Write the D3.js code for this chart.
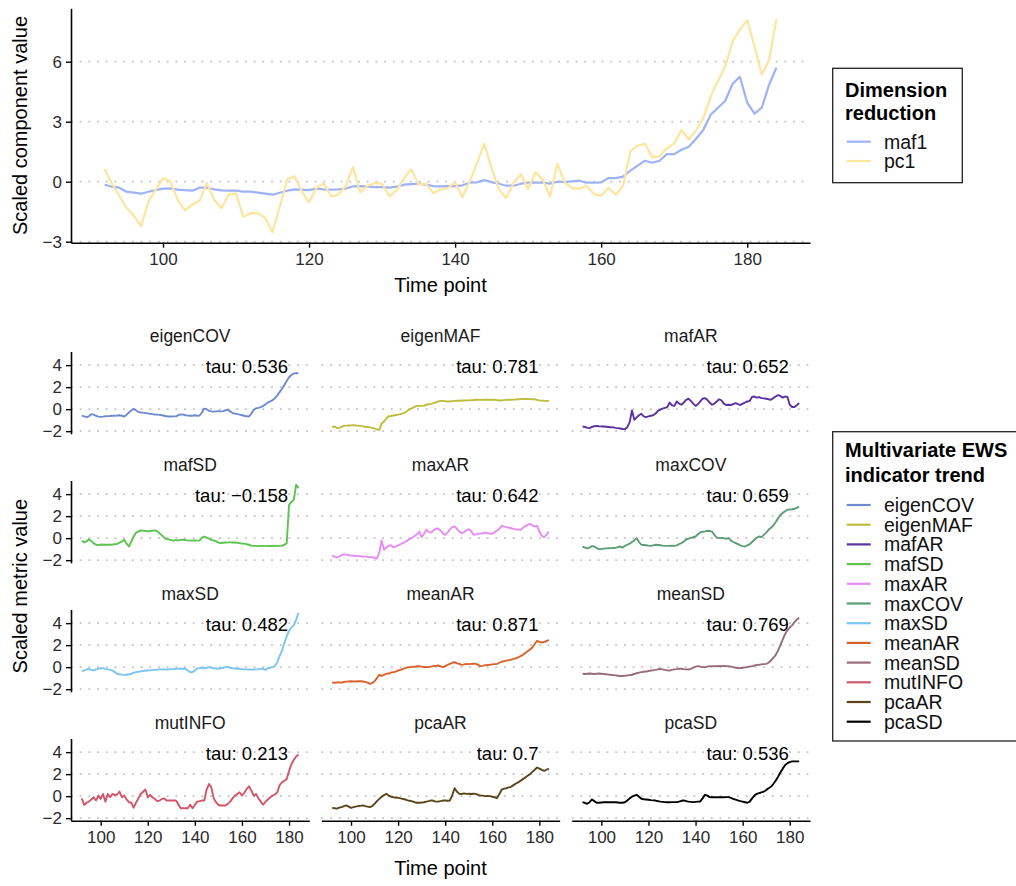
<!DOCTYPE html>
<html><head><meta charset="utf-8">
<script src="https://cdn.jsdelivr.net/npm/d3@7"></script>
<style>
body{margin:0;background:#fff;}
svg{display:block;font-family:"Liberation Sans",Arial,sans-serif;}
</style></head>
<body><svg id="chart" width="1016" height="886"></svg>
<script>
const timePoints = d3.range(92, 185);
const xTicks = [100, 120, 140, 160, 180];
const topYTicks = [-3, 0, 3, 6];
const facetYTicks = [-2, 0, 2, 4];

const maf1 = [-0.15,-0.25,-0.3,-0.5,-0.55,-0.6,-0.5,-0.42,-0.35,-0.33,
-0.4,-0.42,-0.45,-0.3,-0.3,-0.38,-0.43,-0.45,-0.45,-0.5,
-0.5,-0.55,-0.6,-0.65,-0.55,-0.45,-0.38,-0.4,-0.42,-0.35,
-0.38,-0.4,-0.38,-0.35,-0.23,-0.22,-0.25,-0.27,-0.27,-0.3,
-0.25,-0.15,-0.12,-0.1,-0.15,-0.22,-0.23,-0.22,-0.22,-0.18,
-0.05,-0.03,0.08,-0.02,-0.1,-0.2,-0.2,-0.1,-0.05,-0.05,
-0.05,-0.1,0.0,-0.02,0.02,0.05,-0.05,-0.05,-0.03,0.18,
0.18,0.25,0.55,0.8,1.05,0.95,1.05,1.38,1.38,1.6,
1.75,2.15,2.6,3.35,3.7,4.05,4.9,5.25,3.95,3.4,
3.7,4.85,5.7];
const pc1 = [0.63,-0.1,-0.7,-1.3,-1.7,-2.23,-0.98,-0.4,0.18,0.02,
-0.9,-1.43,-1.15,-0.95,-0.07,-0.9,-1.32,-0.65,-0.6,-1.77,
-1.57,-1.57,-1.82,-2.53,-1.23,0.1,0.27,-0.48,-1.03,-0.32,
-0.07,-0.73,-0.65,-0.23,0.73,-0.53,-0.2,-0.07,-0.1,-0.73,
-0.43,0.18,0.63,-0.15,-0.1,-0.57,-0.4,-0.32,-0.03,-0.78,
0.02,0.93,1.9,0.68,-0.37,-0.82,-0.07,0.38,-0.37,0.48,
0.1,-0.73,0.9,-0.03,-0.32,-0.35,-0.2,-0.62,-0.7,-0.32,
-0.65,-0.2,1.52,1.8,1.9,1.23,1.27,1.68,1.9,2.6,
2.1,2.57,3.18,4.27,5.02,5.77,7.02,7.6,8.07,6.77,
5.35,6.07,8.13];

const eigenCOV = [-0.58,-0.65,-0.72,-0.65,-0.45,-0.5,-0.6,-0.68,-0.7,-0.68,
-0.65,-0.63,-0.62,-0.6,-0.6,-0.58,-0.55,-0.6,-0.67,-0.5,
-0.3,-0.12,0.03,-0.1,-0.25,-0.3,-0.32,-0.35,-0.38,-0.42,
-0.45,-0.48,-0.5,-0.52,-0.55,-0.6,-0.65,-0.67,-0.67,-0.66,
-0.66,-0.55,-0.48,-0.5,-0.55,-0.58,-0.6,-0.6,-0.55,-0.6,
-0.58,-0.3,0.05,0.0,-0.15,-0.2,-0.22,-0.2,-0.18,-0.2,
-0.18,-0.1,-0.06,-0.2,-0.35,-0.4,-0.45,-0.5,-0.55,-0.6,
-0.65,-0.67,-0.4,-0.05,0.08,0.12,0.18,0.3,0.45,0.6,
0.7,0.82,1.0,1.25,1.55,1.85,2.2,2.55,2.9,3.1,
3.25,3.27,3.27];
const eigenMAF = [-1.64,-1.58,-1.72,-1.7,-1.6,-1.52,-1.5,-1.48,-1.47,-1.45,
-1.48,-1.5,-1.52,-1.56,-1.6,-1.62,-1.66,-1.7,-1.75,-1.85,
-1.88,-1.3,-1.12,-0.85,-0.65,-0.62,-0.58,-0.53,-0.5,-0.45,
-0.38,-0.3,-0.15,0.0,0.1,0.2,0.3,0.3,0.3,0.32,
0.4,0.45,0.48,0.55,0.62,0.7,0.75,0.75,0.72,0.7,
0.7,0.73,0.75,0.76,0.77,0.78,0.79,0.8,0.8,0.82,
0.83,0.85,0.85,0.84,0.85,0.86,0.85,0.85,0.86,0.85,
0.82,0.79,0.8,0.82,0.84,0.85,0.85,0.87,0.88,0.9,
0.91,0.92,0.93,0.92,0.91,0.9,0.9,0.85,0.8,0.78,
0.76,0.75,0.74];
const mafAR = [-1.58,-1.62,-1.7,-1.72,-1.62,-1.55,-1.52,-1.55,-1.57,-1.58,
-1.6,-1.62,-1.64,-1.66,-1.7,-1.72,-1.76,-1.8,-1.82,-1.64,
-1.2,-0.12,-0.97,-0.75,-0.55,-0.42,-0.65,-0.72,-0.65,-0.6,
-0.55,-0.4,-0.15,-0.05,0.05,0.12,0.18,0.6,0.35,0.3,
0.7,0.5,0.4,0.6,0.85,0.95,0.75,0.5,0.3,0.45,
0.7,0.95,1.0,0.85,0.6,0.4,0.5,0.7,0.9,0.8,
0.5,0.38,0.4,0.38,0.45,0.55,0.45,0.38,0.5,0.6,
0.7,0.75,1.12,1.15,1.05,1.1,1.0,0.98,0.95,0.9,
0.85,1.0,1.15,1.27,1.2,1.05,1.15,1.12,0.4,0.2,
0.2,0.35,0.55];
const mafSD = [-0.21,-0.39,-0.3,-0.1,-0.25,-0.45,-0.6,-0.62,-0.6,-0.58,
-0.6,-0.6,-0.6,-0.58,-0.55,-0.52,-0.4,-0.3,-0.15,-0.5,
-0.76,-0.3,0.15,0.5,0.6,0.7,0.68,0.65,0.62,0.65,
0.68,0.7,0.62,0.45,0.25,0.05,-0.09,-0.12,-0.18,-0.21,
-0.18,-0.2,-0.15,-0.15,-0.18,-0.2,-0.22,-0.21,-0.2,-0.22,
-0.21,0.05,0.15,0.05,-0.05,-0.15,-0.21,-0.3,-0.4,-0.45,
-0.42,-0.4,-0.38,-0.38,-0.39,-0.4,-0.42,-0.45,-0.48,-0.5,
-0.55,-0.6,-0.68,-0.7,-0.7,-0.72,-0.7,-0.7,-0.7,-0.72,
-0.7,-0.72,-0.7,-0.7,-0.7,-0.68,-0.6,-0.45,3.03,3.3,
3.48,4.85,4.55];
const maxAR = [-1.6,-1.68,-1.76,-1.65,-1.55,-1.48,-1.5,-1.55,-1.58,-1.6,
-1.62,-1.63,-1.65,-1.67,-1.68,-1.7,-1.72,-1.73,-1.78,-1.85,
-1.3,-0.21,-1.06,-0.85,-0.7,-0.64,-0.82,-0.75,-0.65,-0.55,
-0.45,-0.35,-0.2,-0.09,0.05,0.2,0.35,0.6,0.1,0.4,
0.76,0.55,0.5,0.7,0.85,0.88,0.7,0.45,0.3,0.5,
0.8,1.0,1.06,0.85,0.6,0.45,0.55,0.7,0.82,0.65,
0.3,0.35,0.4,0.42,0.45,0.5,0.45,0.42,0.4,0.55,
0.7,0.85,1.12,1.05,1.0,0.95,0.9,0.85,0.8,0.78,
0.76,0.95,1.1,1.2,1.3,1.15,1.06,1.12,0.6,0.21,
0.09,0.3,0.6];
const maxCOV = [-0.76,-0.85,-0.94,-0.85,-0.72,-0.75,-0.9,-1.0,-0.98,-0.95,
-0.93,-0.92,-0.91,-0.9,-0.88,-0.82,-0.76,-0.85,-0.7,-0.6,
-0.5,-0.35,-0.2,0.0,-0.35,-0.6,-0.62,-0.65,-0.68,-0.7,
-0.65,-0.6,-0.62,-0.65,-0.68,-0.7,-0.7,-0.7,-0.68,-0.7,
-0.65,-0.55,-0.45,-0.3,-0.12,-0.05,0.02,0.08,0.15,0.35,
0.52,0.58,0.62,0.67,0.65,0.6,0.3,0.05,0.0,0.02,
0.0,-0.05,0.0,-0.2,-0.35,-0.45,-0.55,-0.65,-0.72,-0.76,
-0.65,-0.55,-0.35,-0.15,0.05,0.15,0.09,0.3,0.5,0.76,
0.95,1.15,1.45,1.8,2.1,2.3,2.45,2.58,2.6,2.63,
2.67,2.75,2.88];
const maxSD = [-0.39,-0.3,-0.2,-0.15,-0.25,-0.3,-0.2,-0.15,-0.1,-0.09,
-0.15,-0.2,-0.25,-0.3,-0.45,-0.6,-0.65,-0.68,-0.7,-0.69,
-0.65,-0.6,-0.52,-0.45,-0.42,-0.38,-0.35,-0.3,-0.3,-0.28,
-0.25,-0.25,-0.22,-0.2,-0.2,-0.21,-0.21,-0.2,-0.18,-0.18,
-0.15,-0.15,-0.12,-0.15,-0.15,-0.3,-0.45,-0.45,-0.3,-0.12,
-0.09,-0.05,-0.1,-0.05,0.0,-0.05,-0.1,-0.12,-0.15,-0.1,
-0.05,0.0,0.0,-0.05,-0.1,-0.12,-0.15,-0.15,-0.18,-0.2,
-0.2,-0.21,-0.22,-0.21,-0.2,-0.18,-0.15,-0.15,-0.25,-0.1,
-0.05,0.0,0.1,0.45,1.0,1.5,2.2,2.8,3.3,3.6,
3.8,4.3,4.93];
const meanAR = [-1.4,-1.42,-1.4,-1.38,-1.4,-1.35,-1.32,-1.3,-1.28,-1.3,
-1.3,-1.28,-1.28,-1.3,-1.34,-1.4,-1.52,-1.45,-1.28,-1.0,
-0.69,-0.8,-0.7,-0.6,-0.58,-0.5,-0.45,-0.4,-0.3,-0.25,
-0.15,-0.08,-0.02,0.0,0.05,0.02,0.08,0.09,0.05,0.0,
0.03,0.0,0.05,0.1,0.12,0.15,0.08,0.0,0.1,0.2,
0.3,0.4,0.45,0.35,0.3,0.21,0.25,0.3,0.28,0.3,
0.32,0.3,0.2,0.09,0.12,0.18,0.2,0.22,0.25,0.28,
0.3,0.4,0.5,0.55,0.6,0.62,0.68,0.75,0.81,0.9,
1.0,1.12,1.28,1.45,1.6,1.79,2.1,2.39,2.3,2.24,
2.3,2.35,2.48];
const meanSD = [-0.6,-0.62,-0.6,-0.58,-0.6,-0.62,-0.6,-0.58,-0.6,-0.62,
-0.65,-0.68,-0.69,-0.72,-0.75,-0.78,-0.81,-0.8,-0.78,-0.75,
-0.72,-0.69,-0.62,-0.55,-0.5,-0.45,-0.42,-0.4,-0.35,-0.3,
-0.28,-0.25,-0.2,-0.15,-0.2,-0.25,-0.28,-0.3,-0.25,-0.2,
-0.18,-0.15,-0.15,-0.18,-0.2,-0.21,-0.15,-0.05,0.05,0.09,
0.05,0.0,0.0,0.05,0.08,0.09,0.09,0.08,0.1,0.09,
0.1,0.09,0.09,0.05,0.0,-0.05,-0.09,-0.08,-0.05,-0.02,
0.0,0.05,0.1,0.15,0.21,0.22,0.25,0.28,0.3,0.4,
0.6,0.85,1.1,1.5,2.0,2.5,3.0,3.35,3.6,3.8,
4.1,4.33,4.48];
const mutINFO = [-0.2,-0.8,-0.6,-0.5,-0.3,-0.1,-0.4,0.05,-0.25,0.2,
-0.5,0.2,-0.1,0.2,0.1,0.15,0.42,-0.1,0.05,-0.3,
-0.55,-0.6,-1.05,-0.6,-0.2,0.2,0.4,0.6,-0.1,0.12,
-0.1,-0.25,-0.45,-0.4,-0.25,-0.2,-0.4,-0.4,-0.4,-0.4,
-0.4,-0.75,-1.1,-1.1,-1.1,-1.1,-0.78,-1.1,-0.8,-0.5,
-0.45,-0.4,-0.4,0.6,1.1,0.8,-0.2,-0.55,-0.8,-0.85,
-0.85,-0.85,-0.7,-0.5,-0.2,0.05,0.2,0.35,0.05,0.3,
0.65,0.9,0.5,0.05,0.2,-0.2,-0.5,-0.78,-0.5,-0.3,
-0.1,0.05,0.15,0.35,1.0,1.25,1.4,1.55,2.3,2.9,
3.3,3.6,3.79];
const pcaAR = [-1.07,-1.1,-1.13,-1.05,-0.99,-0.9,-0.84,-0.95,-1.07,-1.0,
-0.95,-0.9,-0.88,-0.84,-0.9,-0.95,-0.99,-0.9,-0.7,-0.45,
-0.25,-0.05,0.1,0.21,0.05,-0.05,-0.1,-0.12,-0.15,-0.2,
-0.25,-0.3,-0.38,-0.42,-0.48,-0.55,-0.6,-0.6,-0.58,-0.55,
-0.5,-0.45,-0.38,-0.42,-0.5,-0.48,-0.45,-0.4,-0.39,-0.42,
-0.39,0.1,0.72,0.4,0.21,0.2,0.25,0.21,0.22,0.2,
0.22,0.21,0.12,0.06,0.05,0.0,0.02,0.0,-0.05,-0.1,
-0.18,0.2,0.6,0.68,0.72,0.8,0.85,1.0,1.15,1.25,
1.4,1.55,1.7,1.85,2.0,2.21,2.4,2.6,2.5,2.39,
2.3,2.4,2.51];
const pcaSD = [-0.54,-0.62,-0.69,-0.55,-0.3,-0.45,-0.6,-0.6,-0.58,-0.56,
-0.55,-0.55,-0.54,-0.55,-0.56,-0.58,-0.6,-0.6,-0.55,-0.4,
-0.2,-0.05,0.05,0.12,-0.05,-0.24,-0.28,-0.3,-0.33,-0.36,
-0.38,-0.4,-0.45,-0.5,-0.52,-0.54,-0.55,-0.55,-0.54,-0.54,
-0.54,-0.5,-0.42,-0.39,-0.45,-0.5,-0.52,-0.54,-0.52,-0.5,
-0.48,-0.2,0.12,0.05,-0.09,-0.1,-0.1,-0.09,-0.1,-0.09,
-0.1,-0.09,-0.09,-0.15,-0.25,-0.32,-0.39,-0.45,-0.5,-0.55,
-0.6,-0.5,-0.2,0.05,0.21,0.28,0.35,0.42,0.55,0.72,
0.85,1.1,1.4,1.75,2.15,2.5,2.81,3.0,3.1,3.16,
3.16,3.16,3.16];

const componentNames = ["maf1", "pc1"];
const componentColors = ["#9db2f7", "#fee49c"];
const indicatorNames = ["eigenCOV","eigenMAF","mafAR","mafSD","maxAR","maxCOV","maxSD","meanAR","meanSD","mutINFO","pcaAR","pcaSD"];
const indicatorColors = ["#6e8bcf","#bdbd3b","#5b33a0","#5cc350","#e58cf5","#5e9c76","#7cc4f2","#d9622a","#986b78","#d2566b","#5a4419","#000000"];
const tauLabels = ["tau: 0.536","tau: 0.781","tau: 0.652","tau: \u22120.158","tau: 0.642","tau: 0.659","tau: 0.482","tau: 0.871","tau: 0.769","tau: 0.213","tau: 0.7","tau: 0.536"];

const componentSeries = [maf1, pc1];
const indicatorSeries = [eigenCOV, eigenMAF, mafAR, mafSD, maxAR, maxCOV, maxSD, meanAR, meanSD, mutINFO, pcaAR, pcaSD];

const svg = d3.select("#chart");
const fmt = v => (v < 0 ? "\u2212" + Math.abs(v) : String(v));
const FONT = '"Liberation Sans",Arial,sans-serif';
const gridStyle = sel => sel.attr("stroke", "#c2c2c2").attr("stroke-width", 1.8).attr("stroke-dasharray", "1.8 6.9");

function styleAxis(g) {
  g.select(".domain").attr("stroke", "#000").attr("stroke-width", 1.6);
  g.selectAll(".tick line").attr("stroke", "#000").attr("stroke-width", 1.4);
  g.selectAll(".tick text").attr("fill", "#2b2b2b").style("font-size", "17px").style("font-family", FONT);
}

// ---------- Top panel ----------
const L = 71, R = 810;
const xTop = d3.scaleLinear().domain([87.4, 188.6]).range([L, R]);
const yTop = d3.scaleLinear().domain([-3.05, 8.67]).range([242.7, 8.3]);

const gTop = svg.append("g");
gTop.selectAll("line.grid").data(topYTicks).join("line")
  .attr("x1", L).attr("x2", R).attr("y1", d => yTop(d)).attr("y2", d => yTop(d)).call(gridStyle);

const lineTop = s => d3.line().x((d, i) => xTop(timePoints[i])).y(d => yTop(d))(s);
gTop.selectAll("path.series").data(componentSeries).join("path")
  .attr("d", d => lineTop(d)).attr("fill", "none")
  .attr("stroke", (d, i) => componentColors[i]).attr("stroke-width", 2.2)
  .attr("stroke-linejoin", "round");

gTop.append("g").attr("transform", `translate(${L},0)`)
  .call(d3.axisLeft(yTop).tickValues(topYTicks).tickFormat(fmt).tickSize(5).tickSizeOuter(0).tickPadding(4))
  .call(styleAxis);
gTop.append("g").attr("transform", `translate(0,${yTop.range()[0]})`)
  .call(d3.axisBottom(xTop).tickValues(xTicks).tickSize(5).tickSizeOuter(0).tickPadding(5))
  .call(styleAxis);

svg.append("text").attr("x", (L + R) / 2).attr("y", 292).attr("text-anchor", "middle")
  .style("font-size", "20px").attr("fill", "#000").text("Time point");
svg.append("text").attr("transform", "translate(27,125.5) rotate(-90)").attr("text-anchor", "middle")
  .style("font-size", "20px").attr("fill", "#000").text("Scaled component value");

// top legend
const lg1 = svg.append("g");
lg1.append("rect").attr("x", 832.7).attr("y", 68.3).attr("width", 129.6).attr("height", 114.4)
  .attr("fill", "#fff").attr("stroke", "#222").attr("stroke-width", 1.3);
lg1.append("text").attr("x", 845).attr("y", 96.7).style("font-size", "20px").style("font-weight", "bold").text("Dimension");
lg1.append("text").attr("x", 845).attr("y", 120).style("font-size", "20px").style("font-weight", "bold").text("reduction");
componentNames.forEach((n, i) => {
  const yy = 141.7 + i * 19.3;
  lg1.append("line").attr("x1", 846.7).attr("x2", 870.7).attr("y1", yy).attr("y2", yy)
    .attr("stroke", componentColors[i]).attr("stroke-width", 2.2);
  lg1.append("text").attr("x", 884).attr("y", yy + 7).style("font-size", "19.5px").attr("fill", "#111").text(n);
});

// ---------- Facets ----------
const panelW = 238.3, panelH = 82.3, colStep = 250.35, rowStep = 129, top0 = 351.5;
const fx = d3.scaleLinear().domain([87.4, 188.6]).range([0, panelW]);
const fy = d3.scaleLinear().domain([-2.24, 5.24]).range([panelH, 0]);
const lineF = s => d3.line().x((d, i) => fx(timePoints[i])).y(d => fy(d))(s);

indicatorNames.forEach((name, k) => {
  const c = k % 3, r = Math.floor(k / 3);
  const g = svg.append("g").attr("transform", `translate(${L + c * colStep},${top0 + r * rowStep})`);
  g.selectAll("line.grid").data(facetYTicks).join("line")
    .attr("x1", 0).attr("x2", panelW).attr("y1", d => fy(d)).attr("y2", d => fy(d)).call(gridStyle);
  g.append("path").attr("d", lineF(indicatorSeries[k])).attr("fill", "none")
    .attr("stroke", indicatorColors[k]).attr("stroke-width", 1.9).attr("stroke-linejoin", "round");
  g.append("text").attr("x", fx(179.6)).attr("y", fy(3.27)).attr("text-anchor", "end")
    .style("font-size", "18.5px").attr("fill", "#000").text(tauLabels[k]);
  g.append("text").attr("x", panelW / 2).attr("y", -10).attr("text-anchor", "middle")
    .style("font-size", "17.5px").attr("fill", "#1a1a1a").text(name);
  if (c === 0) {
    g.append("g").call(d3.axisLeft(fy).tickValues(facetYTicks).tickFormat(fmt).tickSize(5).tickSizeOuter(0).tickPadding(4))
      .call(styleAxis);
  }
  if (r === 3) {
    g.append("g").attr("transform", `translate(0,${panelH})`)
      .call(d3.axisBottom(fx).tickValues(xTicks).tickSize(5).tickSizeOuter(0).tickPadding(5))
      .call(styleAxis);
  }
});

const facetBottom = top0 + 3 * rowStep + panelH;
svg.append("text").attr("x", (L + R) / 2).attr("y", facetBottom + 54).attr("text-anchor", "middle")
  .style("font-size", "20px").attr("fill", "#000").text("Time point");
svg.append("text").attr("transform", `translate(27,${(top0 + facetBottom) / 2}) rotate(-90)`).attr("text-anchor", "middle")
  .style("font-size", "20px").attr("fill", "#000").text("Scaled metric value");

// facet legend
const lg2 = svg.append("g");
lg2.append("rect").attr("x", 832.7).attr("y", 431.7).attr("width", 200).attr("height", 309.3)
  .attr("fill", "#fff").attr("stroke", "#222").attr("stroke-width", 1.3);
lg2.append("text").attr("x", 845).attr("y", 457.3).style("font-size", "20px").style("font-weight", "bold").text("Multivariate EWS");
lg2.append("text").attr("x", 845).attr("y", 481.7).style("font-size", "20px").style("font-weight", "bold").text("indicator trend");
indicatorNames.forEach((n, i) => {
  const yy = 505 + i * 19.7;
  lg2.append("line").attr("x1", 846.7).attr("x2", 870.7).attr("y1", yy).attr("y2", yy)
    .attr("stroke", indicatorColors[i]).attr("stroke-width", 2.2);
  lg2.append("text").attr("x", 884).attr("y", yy + 7).style("font-size", "19.5px").attr("fill", "#111").text(n);
});
</script></body></html>
